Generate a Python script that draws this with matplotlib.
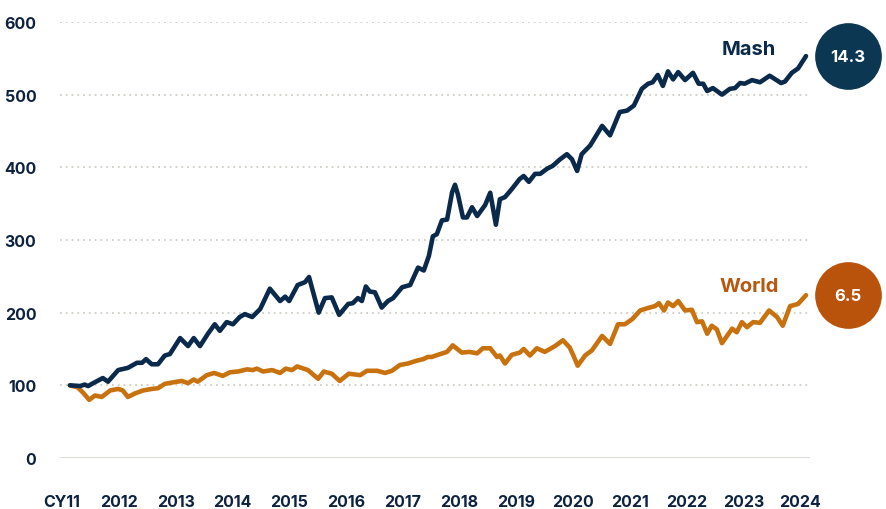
import matplotlib
matplotlib.use("Agg")
import matplotlib.pyplot as plt
import numpy as np

plt.rcParams['font.family'] = ['Inter', 'DejaVu Sans']

# ---- data (decimal years, index CY11 = 100) ----
mash_dates = [2011.14, 2011.32, 2011.40, 2011.46, 2011.55, 2011.72, 2011.81, 2011.99,
              2012.16, 2012.32, 2012.41, 2012.48, 2012.58, 2012.69, 2012.81, 2012.90,
              2013.08, 2013.22, 2013.32, 2013.43, 2013.57, 2013.69, 2013.78, 2013.90,
              2014.01, 2014.13, 2014.22, 2014.35, 2014.49, 2014.66, 2014.84, 2014.93,
              2015.00, 2015.15, 2015.28, 2015.35, 2015.52, 2015.63, 2015.75, 2015.88,
              2016.04, 2016.12, 2016.21, 2016.28, 2016.35, 2016.42, 2016.51, 2016.63,
              2016.74, 2016.83, 2016.99, 2017.13, 2017.27, 2017.37, 2017.46, 2017.53,
              2017.60, 2017.69, 2017.78, 2017.87, 2017.92, 2017.97, 2018.06, 2018.13,
              2018.22, 2018.31, 2018.45, 2018.54, 2018.64, 2018.71, 2018.80, 2018.92,
              2019.06, 2019.13, 2019.22, 2019.33, 2019.42, 2019.54, 2019.64, 2019.77,
              2019.89, 2019.98, 2020.07, 2020.15, 2020.30, 2020.51, 2020.65, 2020.82,
              2020.95, 2021.07, 2021.21, 2021.32, 2021.40, 2021.49, 2021.58, 2021.67,
              2021.76, 2021.85, 2021.97, 2022.11, 2022.21, 2022.29, 2022.36, 2022.46,
              2022.62, 2022.76, 2022.85, 2022.94, 2023.02, 2023.15, 2023.29, 2023.46,
              2023.66, 2023.73, 2023.85, 2023.96, 2024.10]
mash_values = [100, 99, 101, 99, 103, 110, 105, 121,
               124, 131, 131, 136, 129, 129, 141, 143,
               165, 154, 165, 154, 171, 184, 175, 187,
               184, 194, 198, 194, 205, 233, 216, 222,
               216, 238, 242, 249, 200, 220, 221, 197,
               212, 213, 220, 216, 236, 229, 228, 207,
               216, 220, 235, 238, 262, 258, 278, 305,
               308, 327, 328, 366, 376, 363, 331, 331,
               345, 333, 348, 365, 321, 356, 359, 370,
               384, 388, 380, 391, 391, 398, 402, 411,
               418, 411, 395, 418, 430, 457, 444, 476,
               478, 485, 508, 515, 517, 527, 512, 532,
               521, 531, 520, 530, 515, 515, 505, 509,
               500, 508, 509, 516, 515, 520, 517, 526,
               516, 518, 530, 536, 553]

world_dates = [2011.14, 2011.28, 2011.37, 2011.48, 2011.58, 2011.70, 2011.85, 2011.99,
               2012.07, 2012.16, 2012.29, 2012.43, 2012.58, 2012.69, 2012.81, 2012.95,
               2013.11, 2013.22, 2013.32, 2013.39, 2013.55, 2013.68, 2013.83, 2013.96,
               2014.10, 2014.26, 2014.36, 2014.43, 2014.54, 2014.70, 2014.84, 2014.94,
               2015.05, 2015.14, 2015.33, 2015.51, 2015.61, 2015.75, 2015.89, 2016.05,
               2016.25, 2016.37, 2016.55, 2016.69, 2016.81, 2016.95, 2017.09, 2017.25,
               2017.36, 2017.44, 2017.51, 2017.62, 2017.78, 2017.88, 2018.04, 2018.17,
               2018.31, 2018.41, 2018.54, 2018.66, 2018.71, 2018.80, 2018.92, 2019.06,
               2019.13, 2019.24, 2019.36, 2019.50, 2019.68, 2019.82, 2019.94, 2020.01,
               2020.08, 2020.21, 2020.33, 2020.51, 2020.65, 2020.79, 2020.91, 2021.04,
               2021.18, 2021.30, 2021.44, 2021.51, 2021.60, 2021.67, 2021.76, 2021.85,
               2021.97, 2022.09, 2022.18, 2022.27, 2022.36, 2022.44, 2022.53, 2022.62,
               2022.71, 2022.80, 2022.88, 2022.97, 2023.06, 2023.17, 2023.29, 2023.45,
               2023.59, 2023.69, 2023.82, 2023.96, 2024.10]
world_values = [100, 97, 90, 80, 86, 84, 93, 95,
                93, 84, 89, 93, 95, 96, 102, 104,
                106, 103, 108, 105, 114, 117, 113, 118,
                119, 122, 121, 123, 119, 121, 117, 123,
                121, 126, 121, 109, 119, 116, 106, 116,
                114, 120, 120, 117, 120, 128, 130, 134,
                136, 139, 139, 142, 146, 155, 145, 146,
                144, 151, 151, 139, 141, 130, 142, 145,
                150, 141, 151, 146, 154, 162, 152, 140,
                127, 141, 148, 168, 157, 184, 184, 191,
                203, 206, 209, 213, 203, 214, 209, 216,
                203, 204, 187, 188, 171, 182, 177, 158,
                168, 178, 173, 187, 180, 187, 186, 203,
                194, 182, 209, 212, 224]

tick_years = [2011, 2012, 2013, 2014, 2015, 2016, 2017, 2018, 2019, 2020, 2021, 2022, 2023, 2024]
tick_labels = ['CY11', '2012', '2013', '2014', '2015', '2016', '2017', '2018', '2019',
               '2020', '2021', '2022', '2023', '2024']
y_ticks = [0, 100, 200, 300, 400, 500, 600]

series_names = ['Mash', 'World']
annualised = ['14.3', '6.5']

NAVY = '#0b2a4b'
NAVY_CIRCLE = '#0c3752'
ORANGE = '#c8720f'
ORANGE_CIRCLE = '#b9520b'
ORANGE_TEXT = '#b9560f'
TICK_COLOR = '#0d2240'

fig = plt.figure(figsize=(8.86, 5.10), dpi=100)
ax = fig.add_axes([0.0677, 0.100, 0.8465, 0.855])

ax.plot(world_dates, world_values, color=ORANGE, lw=3.3, solid_joinstyle='round',
        solid_capstyle='round', zorder=3)
ax.plot(mash_dates, mash_values, color=NAVY, lw=3.3, solid_joinstyle='round',
        solid_capstyle='round', zorder=4)

ax.set_xlim(2010.965, 2024.17)
ax.set_ylim(0, 600)

for v in y_ticks[1:]:
    ax.axhline(v, color='#cfcfc8', lw=1.3, ls=(0, (1, 2.2)), zorder=1)
ax.axhline(0, color='#dcdcd6', lw=1.4, zorder=1)

for s in ax.spines.values():
    s.set_visible(False)

ax.set_yticks(y_ticks)
ax.set_yticklabels([str(v) for v in y_ticks])
ax.set_xticks(tick_years)
ax.set_xticklabels(tick_labels)
ax.tick_params(axis='y', length=0, pad=17, labelsize=11.5, labelcolor=TICK_COLOR)
ax.tick_params(axis='x', length=0, pad=26, labelsize=11.5, labelcolor=TICK_COLOR)
for lab in ax.get_xticklabels() + ax.get_yticklabels():
    lab.set_fontweight('bold')

# series labels
ax.text(2023.1, mash_values[-1] + 10, series_names[0], color=NAVY, fontsize=14.5,
        fontweight='bold', ha='center', va='center')
ax.text(2023.1, world_values[-1] + 13, series_names[1], color=ORANGE_TEXT, fontsize=14.5,
        fontweight='bold', ha='center', va='center')

# end circles
cx = 2024.84
for yv, col, txt in [(mash_values[-1], NAVY_CIRCLE, annualised[0]),
                     (world_values[-1], ORANGE_CIRCLE, annualised[1])]:
    ax.plot([cx], [yv], 'o', ms=47, color=col, mec=col, clip_on=False, zorder=5)
    ax.text(cx, yv, txt, color='white', fontsize=12, fontweight='bold',
            ha='center', va='center', zorder=6)

fig.savefig('out.png', dpi=100)
